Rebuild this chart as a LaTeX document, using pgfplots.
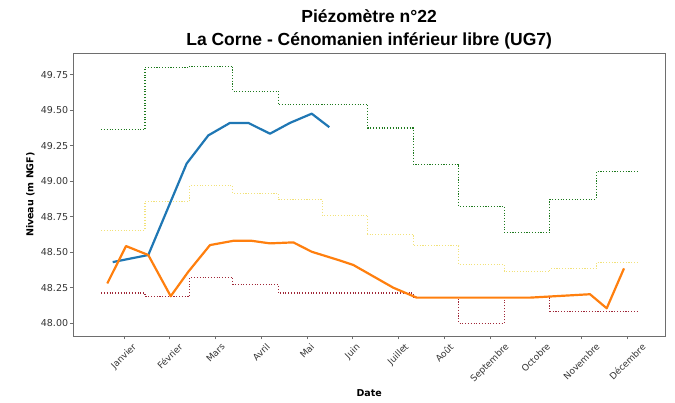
\documentclass[border=0pt]{standalone}
\usepackage{pgfplots}
\pgfplotsset{compat=1.18}
\usepackage{fontspec}
\setmainfont{DejaVu Sans}
\newfontfamily\titlefont{Liberation Sans}
\definecolor{cBlue}{HTML}{1F77B4}
\definecolor{cOrange}{HTML}{FF7F0E}
\definecolor{cGreen}{HTML}{1E7A1E}
\definecolor{cYellow}{HTML}{F2E27A}
\definecolor{cRed}{HTML}{A02838}
\definecolor{Spine}{HTML}{6E6E6E}
\definecolor{Txt}{HTML}{333333}

% monthly envelope, x in month units (Janvier = 1)
\pgfplotstableread{
x     hi     mid    lo
0.50  49.362 48.655 48.213
1.46  49.800 48.858 48.190
2.44  49.810 48.967 48.320
3.38  49.633 48.915 48.272
4.37  49.540 48.872 48.213
5.33  49.540 48.760 48.213
6.33  49.374 48.626 48.213
7.32  49.120 48.545 48.178
8.32  48.824 48.416 48.000
9.31  48.640 48.364 48.178
10.31 48.873 48.383 48.085
11.32 49.065 48.428 48.085
12.23 49.065 48.428 48.085
}\envelope

\begin{document}
\begin{tikzpicture}
\begin{axis}[
  scale only axis,
  width=591.7pt,
  height=282.7pt,
  xmin=-0.108, xmax=12.825,
  ymin=47.91, ymax=49.90,
  xtick={1,2,3,4,5,6,7,8,9,10,11,12},
  xticklabels={\rotatebox{45}{Janvier},\rotatebox{45}{Février},\rotatebox{45}{Mars},\rotatebox{45}{Avril},\rotatebox{45}{Mai},\rotatebox{45}{Juin},\rotatebox{45}{Juillet},\rotatebox{45}{Août},\rotatebox{45}{Septembre},\rotatebox{45}{Octobre},\rotatebox{45}{Novembre},\rotatebox{45}{Décembre}},
  xticklabel style={anchor=north, font=\fontsize{9}{10}\selectfont, text=Txt, inner sep=1pt, yshift=-2pt},
  ytick={48,48.25,48.5,48.75,49,49.25,49.5,49.75},
  yticklabel style={/pgf/number format/fixed, /pgf/number format/fixed zerofill, /pgf/number format/precision=2, /pgf/number format/assume math mode=true, font=\fontsize{9.5}{10}\selectfont, text=Txt, inner sep=1.5pt},
  tick pos=left,
  tick align=outside,
  major tick length=3.5pt,
  tick style={Spine, line width=0.8pt},
  axis line style={Spine, line width=0.8pt},
  title={Piézomètre n°22\\La Corne - Cénomanien inférieur libre (UG7)},
  title style={font=\titlefont\bfseries\fontsize{17.5}{23}\selectfont, align=center, at={(axis description cs:0.5,1)}, anchor=south, yshift=-5pt},
  xlabel={Date},
  xlabel style={font=\bfseries\fontsize{9.5}{10}\selectfont, at={(axis description cs:0.5,0)}, anchor=center, yshift=-57pt},
  ylabel={Niveau (m NGF)},
  ylabel style={font=\bfseries\fontsize{9.5}{10}\selectfont, at={(axis description cs:0,0.5)}, anchor=center, yshift=43pt},
]
\addplot[cGreen, const plot, line width=1.1pt, dash pattern=on 1.1pt off 1.7pt] table[x=x, y=hi] {\envelope};
\addplot[cYellow, const plot, line width=1.1pt, dash pattern=on 1.1pt off 1.7pt] table[x=x, y=mid] {\envelope};
\addplot[cRed, const plot, line width=1.1pt, dash pattern=on 1.1pt off 1.7pt] table[x=x, y=lo] {\envelope};
\addplot[cBlue, line width=2.2pt, line join=round] coordinates {
  (0.753,48.430) (1.531,48.480) (2.370,49.124) (2.843,49.322) (3.317,49.410)
  (3.717,49.410) (4.191,49.334) (4.628,49.410) (5.103,49.475) (5.487,49.380)};
\addplot[cOrange, line width=2.2pt, line join=round] coordinates {
  (0.635,48.280) (1.044,48.543) (1.531,48.480) (2.021,48.190) (2.405,48.362)
  (2.880,48.550) (3.389,48.580) (3.791,48.580) (4.191,48.562) (4.701,48.569)
  (5.103,48.503) (5.684,48.445) (6.012,48.410) (6.886,48.250) (7.398,48.180)
  (9.874,48.180) (11.186,48.204) (11.551,48.105) (11.929,48.386)};
\end{axis}
\pgfresetboundingbox
\path[use as bounding box] (-73.3pt,-67pt) rectangle (601.7pt,336pt);
\end{tikzpicture}
\end{document}
